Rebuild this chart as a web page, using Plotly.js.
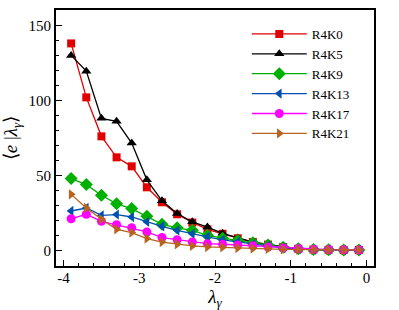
<!DOCTYPE html>
<html>
<head>
<meta charset="utf-8">
<script src="https://cdn.plot.ly/plotly-3.0.1.min.js"></script>
<style>html,body{margin:0;padding:0;background:#fff;}#chart{width:399px;height:310px;}</style>
</head>
<body>
<div id="chart"></div>
<script>
const lambdaGamma = [-3.9,-3.7,-3.5,-3.3,-3.1,-2.9,-2.7,-2.5,-2.3,-2.1,-1.9,-1.7,-1.5,-1.3,-1.1,-0.9,-0.7,-0.5,-0.3,-0.1];
const seriesNames = ["R4K0","R4K5","R4K9","R4K13","R4K17","R4K21"];
const R4K0  = [138,102,76,62,56,42,32,24,18.5,14,11,8,5.5,3.8,2.2,1,0.5,0.3,0.2,0.2];
const R4K5  = [130,119.5,88,86,71.5,47,33,24.5,19,15.5,11.3,8.2,5.5,4,2.2,0.9,0.5,0.3,0.2,0.2];
const R4K9  = [47.8,43.8,36.7,31,27.8,22.7,17.3,15,13.3,10,8,6.5,5,3.5,2,1,0.5,0.3,0.2,0.2];
const R4K13 = [26.2,28.2,23.3,23.8,22.2,19,16,13.3,11,9,7,5.5,4,3,1.5,0.8,0.4,0.3,0.2,0.2];
const R4K17 = [21,24,19.3,17,15,12.2,8.5,7,5.5,4.4,4,3.5,3,2.2,1.5,1,0.6,0.4,0.3,0.2];
const R4K21 = [37.3,28.2,20.7,14,11.8,7.8,5.5,4,2.9,2.2,2,1.5,1.2,0.9,0.6,0.4,0.3,0.2,0.2,0.2];
const xTickVals = [-4,-3,-2,-1,0];
const xTickText = ["-4","-3","-2","-1","0"];
const yTickVals = [0,50,100,150];

const seriesValues = [R4K0,R4K5,R4K9,R4K13,R4K17,R4K21];
const colors = ["#e00000","#000000","#00b000","#0050b0","#ff00ff","#b8641e"];
const symbols = ["square","triangle-up","diamond","triangle-left","circle","triangle-right"];
const sizes = [8,9,10,9,9,9];

const traces = seriesNames.map((n,i)=>({
  x: lambdaGamma, y: seriesValues[i], name: n, type:'scatter', mode:'lines+markers',
  line:{color:colors[i], width:1.3},
  marker:{color:colors[i], symbol:symbols[i], size:sizes[i]}
}));

const font = {family:'Liberation Serif, Times New Roman, serif', color:'#000'};
const layout = {
  width:399, height:310,
  margin:{l:56, r:25, t:10, b:44},
  paper_bgcolor:'#fff', plot_bgcolor:'#fff',
  font: Object.assign({size:13}, font),
  showlegend:true,
  legend:{x:0.6, y:0.965, xanchor:'left', yanchor:'top', font:Object.assign({size:13},font), bgcolor:'rgba(0,0,0,0)',
    tracegroupgap:0, itemwidth:55},
  xaxis:{range:[-4.1,0.1], tickvals:xTickVals, ticktext:xTickText, ticks:'inside', ticklen:6, tickwidth:1, tickcolor:'#000',
    minor:{dtick:0.2, ticks:'inside', ticklen:3, tickcolor:'#000'},
    showgrid:false, zeroline:false, showline:true, linewidth:2, linecolor:'#000', mirror:true,
    tickfont:Object.assign({size:15},font), ticklabelstandoff:-3,
    title:{text:'<i>λ</i><sub><i>γ</i></sub>', font:Object.assign({size:19},font), standoff:4}},
  yaxis:{range:[-10.5,160.3], tickvals:yTickVals, ticks:'inside', ticklen:6, tickwidth:1, tickcolor:'#000',
    minor:{dtick:10, ticks:'inside', ticklen:3, tickcolor:'#000'},
    showgrid:false, zeroline:false, showline:true, linewidth:2, linecolor:'#000', mirror:true,
    tickfont:Object.assign({size:15},font),
    title:{text:'⟨<i>e</i> |<i>λ</i><sub><i>γ</i></sub>⟩', font:Object.assign({size:19},font), standoff:6}}
};
Plotly.newPlot('chart', traces, layout, {displayModeBar:false, staticPlot:true});
</script>
</body>
</html>
